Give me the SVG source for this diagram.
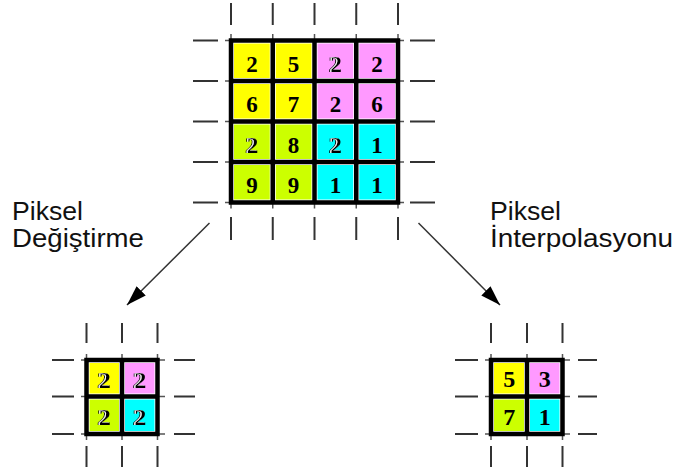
<svg xmlns="http://www.w3.org/2000/svg" width="677" height="474" viewBox="0 0 677 474">
  <style>
    .tick { stroke: #333; stroke-width: 2; fill: none; }
    .stub { stroke: #555; stroke-width: 1.5; fill: none; }
    .frame { stroke: #000; stroke-width: 4.5; fill: none; stroke-linecap: square; }
    .yel { fill: #ffff00; }
    .pnk { fill: #ff99ff; }
    .ygr { fill: #ccff00; }
    .cyn { fill: #00ffff; }
    .num { font-family: "Liberation Serif", "Times New Roman", serif; font-weight: bold; font-size: 23px; text-anchor: middle; fill: #000; }
    .num.big { font-size: 24px; }
    .emb { filter: url(#emboss); }
    .lbl { font-family: "Liberation Sans", Arial, sans-serif; font-size: 25px; fill: #111; }
    .arrow { stroke: #333; stroke-width: 1.5; fill: none; }
  </style>
  <defs>
    <marker id="head" viewBox="0 0 20 13" markerWidth="20" markerHeight="13" refX="20" refY="6.5" orient="auto" markerUnits="userSpaceOnUse">
      <path d="M0,0 L20,6.5 L0,13 Z" fill="#000"/>
    </marker>
    <!-- doubled glyph with a thin white seam on its left side -->
    <filter id="emboss" x="-30%" y="-20%" width="160%" height="140%">
      <feOffset in="SourceAlpha" dx="-1.6" dy="0.3" result="back"/>
      <feFlood flood-color="#ffffff" result="white"/>
      <feOffset in="SourceAlpha" dx="-0.8" dy="0.15" result="mid"/>
      <feComposite in="white" in2="mid" operator="in" result="seam"/>
      <feMerge>
        <feMergeNode in="back"/>
        <feMergeNode in="seam"/>
        <feMergeNode in="SourceGraphic"/>
      </feMerge>
    </filter>
  </defs>
  <rect width="677" height="474" fill="#fff"/>

  <!-- 4x4 source pixel block -->
  <g id="grid-source">
    <!-- guide ticks -->
    <path class="tick" d="M231,3V25M272.75,3V25M314.5,3V25M356.25,3V25M398,3V25
                          M231,217V240M272.75,217V240M314.5,217V240M356.25,217V240M398,217V240
                          M193,40.5H218M193,81H218M193,121.5H218M193,162H218M193,202.5H218
                          M410,40.5H435M410,81H435M410,121.5H435M410,162H435M410,202.5H435"/>
    <path class="stub" d="M231,34V208.5M272.75,34V208.5M314.5,34V208.5M356.25,34V208.5M398,34V208.5
                          M225,40.5H404M225,81H404M225,121.5H404M225,162H404M225,202.5H404"/>
    <!-- cells -->
    <rect class="yel" x="234" y="43.5" width="35.75" height="34.5"/>
    <rect class="yel" x="275.75" y="43.5" width="35.75" height="34.5"/>
    <rect class="pnk" x="317.5" y="43.5" width="35.75" height="34.5"/>
    <rect class="pnk" x="359.25" y="43.5" width="35.75" height="34.5"/>
    <rect class="yel" x="234" y="84" width="35.75" height="34.5"/>
    <rect class="yel" x="275.75" y="84" width="35.75" height="34.5"/>
    <rect class="pnk" x="317.5" y="84" width="35.75" height="34.5"/>
    <rect class="pnk" x="359.25" y="84" width="35.75" height="34.5"/>
    <rect class="ygr" x="234" y="124.5" width="35.75" height="34.5"/>
    <rect class="ygr" x="275.75" y="124.5" width="35.75" height="34.5"/>
    <rect class="cyn" x="317.5" y="124.5" width="35.75" height="34.5"/>
    <rect class="cyn" x="359.25" y="124.5" width="35.75" height="34.5"/>
    <rect class="ygr" x="234" y="165" width="35.75" height="34.5"/>
    <rect class="ygr" x="275.75" y="165" width="35.75" height="34.5"/>
    <rect class="cyn" x="317.5" y="165" width="35.75" height="34.5"/>
    <rect class="cyn" x="359.25" y="165" width="35.75" height="34.5"/>
    <!-- grid lines -->
    <path class="frame" d="M231,40.5H398V202.5H231Z M272.75,40.5V202.5M314.5,40.5V202.5M356.25,40.5V202.5 M231,81H398M231,121.5H398M231,162H398"/>
    <!-- values -->
    <g>
      <text class="num" x="251.9" y="71.5">2</text>
      <text class="num" x="293.6" y="71.5">5</text>
      <text class="num emb" x="336" y="71.5">2</text>
      <text class="num" x="377.1" y="71.5">2</text>

      <text class="num" x="251.9" y="112">6</text>
      <text class="num" x="293.6" y="112">7</text>
      <text class="num" x="335.4" y="112">2</text>
      <text class="num" x="377.1" y="112">6</text>

      <text class="num emb" x="252.5" y="152.5">2</text>
      <text class="num" x="293.6" y="152.5">8</text>
      <text class="num emb" x="336" y="152.5">2</text>
      <text class="num" x="377.1" y="152.5">1</text>

      <text class="num" x="251.9" y="193">9</text>
      <text class="num" x="293.6" y="193">9</text>
      <text class="num" x="335.4" y="193">1</text>
      <text class="num" x="377.1" y="193">1</text>
    </g>
  </g>

  <!-- 2x2 result: pixel replacement -->
  <g id="grid-replace">
    <path class="tick" d="M86.5,323V343M122,323V343M157.5,323V343
                          M86.5,446V467M122,446V467M157.5,446V467
                          M52,360H74M52,396.5H74M52,434H74
                          M174,360H195M174,396.5H195M174,434H195"/>
    <path class="stub" d="M86.5,354V440M122,354V440M157.5,354V440
                          M81,360H165M81,396.5H165M81,434H165"/>
    <rect class="yel" x="89.5" y="363" width="29.5" height="30.5"/>
    <rect class="pnk" x="125" y="363" width="29.5" height="30.5"/>
    <rect class="ygr" x="89.5" y="399.5" width="29.5" height="31.5"/>
    <rect class="cyn" x="125" y="399.5" width="29.5" height="31.5"/>
    <path class="frame" d="M86.5,360H157.5V434H86.5Z M122,360V434 M86.5,396.5H157.5"/>
    <g>
      <text class="num big emb" x="104.8" y="387.5">2</text>
      <text class="num big emb" x="140.3" y="387.5">2</text>
      <text class="num big emb" x="104.8" y="425">2</text>
      <text class="num big emb" x="140.3" y="425">2</text>
    </g>
  </g>

  <!-- 2x2 result: pixel interpolation -->
  <g id="grid-interp">
    <path class="tick" d="M491,323V343M527,323V343M562.5,323V343
                          M491,446V467M527,446V467M562.5,446V467
                          M455,360H478M455,396.5H478M455,434H478
                          M578,360H597M578,396.5H597M578,434H597"/>
    <path class="stub" d="M491,354V440M527,354V440M562.5,354V440
                          M485,360H570M485,396.5H570M485,434H570"/>
    <rect class="yel" x="494" y="363" width="30" height="30.5"/>
    <rect class="pnk" x="530" y="363" width="29.5" height="30.5"/>
    <rect class="ygr" x="494" y="399.5" width="30" height="31.5"/>
    <rect class="cyn" x="530" y="399.5" width="29.5" height="31.5"/>
    <path class="frame" d="M491,360H562.5V434H491Z M527,360V434 M491,396.5H562.5"/>
    <g>
      <text class="num big" x="509.3" y="387">5</text>
      <text class="num big" x="544.8" y="387">3</text>
      <text class="num big" x="509.3" y="424.5">7</text>
      <text class="num big" x="544.8" y="424.5">1</text>
    </g>
  </g>

  <!-- method labels -->
  <g id="label-replace">
    <text class="lbl" x="12" y="220" textLength="71" lengthAdjust="spacingAndGlyphs">Piksel</text>
    <text class="lbl" x="12" y="246.5" textLength="132" lengthAdjust="spacingAndGlyphs">Değiştirme</text>
  </g>
  <g id="label-interp">
    <text class="lbl" x="490" y="220" textLength="71" lengthAdjust="spacingAndGlyphs">Piksel</text>
    <text class="lbl" x="490" y="246.5" textLength="183" lengthAdjust="spacingAndGlyphs">İnterpolasyonu</text>
  </g>

  <!-- connectors -->
  <g id="connectors">
    <line class="arrow" x1="209.5" y1="223" x2="127" y2="305" marker-end="url(#head)"/>
    <line class="arrow" x1="418.5" y1="223" x2="500" y2="305" marker-end="url(#head)"/>
  </g>
</svg>
